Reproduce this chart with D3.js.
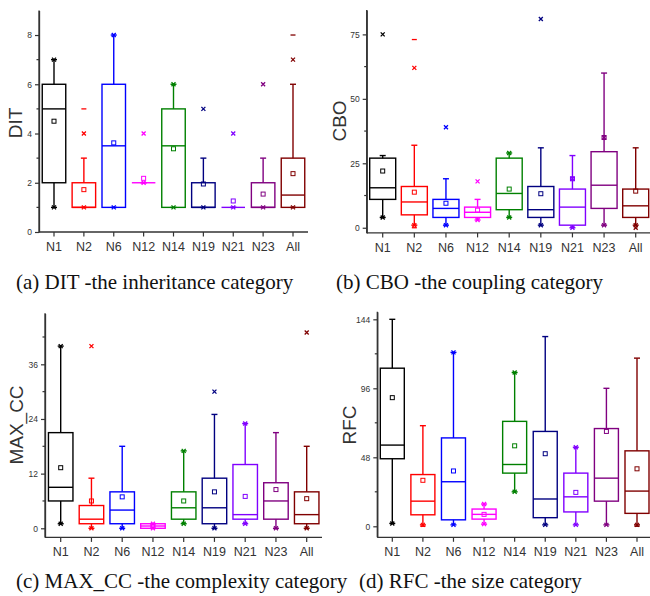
<!DOCTYPE html>
<html>
<head>
<meta charset="utf-8">
<script src="https://cdn.jsdelivr.net/npm/d3@7"></script>
<style>
  html, body { margin: 0; padding: 0; background: #fff; }
  svg { display: block; }
  .tick-label { font-family: "Liberation Sans", Arial, sans-serif; fill: #333; }
  .caption { font-family: "Liberation Serif", "Times New Roman", serif; fill: #111; }
</style>
</head>
<body>
<svg id="chart" width="650" height="596"></svg>
<script>
// Categories and colours shared by all four panels
const CATS = ["N1", "N2", "N6", "N12", "N14", "N19", "N21", "N23", "All"];
const COLORS = ["#000000", "#ff0000", "#0000ff", "#ff00ff", "#008000", "#000080", "#8000ff", "#800080", "#800000"];

// Box rows: [whisker low, Q1, median, Q3, whisker high]
const DIT_BOX = [[1, 2, 5, 6, 7], [1, 1, 1, 2, 3], [1, 1, 3.5, 6, 8], [2, 2, 2, 2, 2], [1, 1, 3.5, 5, 6],
                 [1, 1, 1, 2, 3], [1, 1, 1, 1, 1], [1, 1, 1, 2, 3], [1, 1, 1.5, 3, 6]];
const DIT_MEAN = [4.5, 1.72, 3.62, 2.18, 3.38, 1.95, 1.26, 1.54, 2.37];
const DIT_X = [[1, 7], [1, 4], [1, 8], [2, 4], [1, 6], [1, 5], [1, 4], [1, 6], [1, 7]];
const DIT_DASH = [[], [5], [], [], [], [], [], [], [8]];

const CBO_BOX = [[4, 11, 15.5, 27, 28], [1, 5, 10, 16, 32], [1, 4, 7.5, 11, 19], [3, 4, 6, 8, 11], [4, 7, 13.3, 27, 29],
                 [1, 4, 7, 16, 31], [0, 1, 8, 15, 28], [1, 7.5, 16.5, 29.5, 60], [1, 4, 8.5, 15, 31]];
const CBO_MEAN = [22, 13.8, 9.5, 6.8, 15, 13.2, 19, 35, 14.2];
const CBO_X = [[4, 75], [1, 62], [1, 39], [3, 18], [4, 29], [1, 81], [0, 19], [1, 35], [0, 1]];
const CBO_DASH = [[], [0, 73], [], [], [], [], [], [], []];

const MAXCC_BOX = [[1, 6, 9, 21, 40], [0, 1, 2, 5, 11], [0, 1, 4, 8, 18], [0, 0, 0.5, 1, 1], [1, 2, 4.5, 8, 17],
                   [0, 1, 4.5, 11, 25], [1, 2, 3, 14, 23], [0, 2, 6, 10, 21], [0, 1, 3, 8, 18]];
const MAXCC_MEAN = [13.3, 6, 6.9, 0.5, 6, 8, 7, 8.5, 6.5];
const MAXCC_X = [[1, 40], [0, 40], [0], [0, 1], [1, 17], [0, 30], [1, 23], [0], [0, 43]];
const MAXCC_DASH = [[], [], [], [], [], [], [], [], []];

const RFC_BOX = [[2, 47, 56.5, 110, 144], [1, 8, 17.5, 36, 70], [1, 4.5, 31, 61.5, 121], [1.5, 5, 8.3, 12, 15.5],
                 [24, 37, 43, 73, 107], [1, 6, 19, 66, 132], [1, 10, 20.5, 37, 55], [1, 17.5, 33.5, 68, 96],
                 [1, 9, 24.5, 52.5, 117]];
const RFC_MEAN = [89.5, 32, 38.5, 8.3, 56, 50.5, 23.6, 66, 40];
const RFC_X = [[2], [1], [1, 121], [1.5, 15.5], [24, 107], [1], [1, 55], [1], [1]];
const RFC_DASH = [[], [0], [], [], [], [], [], [], [0]];

// Axis ticks per panel
const DIT_TICKS = [0, 2, 4, 6, 8], DIT_MINOR = [1, 3, 5, 7];
const CBO_TICKS = [0, 25, 50, 75], CBO_MINOR = [12.5, 37.5, 62.5];
const MAXCC_TICKS = [0, 12, 24, 36], MAXCC_MINOR = [6, 18, 30, 42];
const RFC_TICKS = [0, 48, 96, 144], RFC_MINOR = [24, 72, 120];

const CAPTIONS = ["(a) DIT -the inheritance category", "(b) CBO -the coupling category",
                  "(c) MAX_CC -the complexity category", "(d) RFC -the size category"];

// layout of each panel (pixel frames)
const panels = [
  { name: "DIT", box: DIT_BOX, mean: DIT_MEAN, xs: DIT_X, dash: DIT_DASH, ticks: DIT_TICKS, minor: DIT_MINOR,
    domain: [0, 9], yr: [232, 10.4], axX: 39, xr: [54, 293], axEnd: 308, bw: 23.5,
    lab: [15, 123], cap: [16, 289] },
  { name: "CBO", box: CBO_BOX, mean: CBO_MEAN, xs: CBO_X, dash: CBO_DASH, ticks: CBO_TICKS, minor: CBO_MINOR,
    domain: [-2, 84.5], yr: [232.9, 9.9], axX: 366.7, xr: [382.7, 635.7], axEnd: 650, bw: 26,
    lab: [339, 121], cap: [336, 289] },
  { name: "MAX_CC", box: MAXCC_BOX, mean: MAXCC_MEAN, xs: MAXCC_X, dash: MAXCC_DASH, ticks: MAXCC_TICKS, minor: MAXCC_MINOR,
    domain: [-2, 47.2], yr: [537.4, 313.3], axX: 45, xr: [60.7, 306.7], axEnd: 322, bw: 24.5,
    lab: [16.5, 425], cap: [16, 588] },
  { name: "RFC", box: RFC_BOX, mean: RFC_MEAN, xs: RFC_X, dash: RFC_DASH, ticks: RFC_TICKS, minor: RFC_MINOR,
    domain: [-7.65, 149.3], yr: [537.3, 311.7], axX: 377.3, xr: [392.3, 637], axEnd: 650, bw: 24,
    lab: [349, 425], cap: [359, 588] }
];

const svg = d3.select("#chart");

panels.forEach((p, pi) => {
  const y = d3.scaleLinear().domain(p.domain).range(p.yr);
  const x = d3.scalePoint().domain(CATS).range(p.xr);
  const g = svg.append("g");
  const yBase = p.yr[0];

  // y axis (major + minor ticks)
  g.append("g")
    .attr("transform", `translate(${p.axX},0)`)
    .call(d3.axisLeft(y).tickValues(p.ticks).tickSize(4).tickPadding(3).tickSizeOuter(0))
    .call(a => a.select(".domain").attr("stroke", "#333").attr("stroke-width", 1.3))
    .call(a => a.selectAll(".tick line").attr("stroke", "#333").attr("stroke-width", 1.2))
    .call(a => a.selectAll(".tick text").attr("class", "tick-label").attr("font-size", 8.5).attr("fill", "#333"));
  g.append("g")
    .attr("transform", `translate(${p.axX},0)`)
    .selectAll("line").data(p.minor).join("line")
    .attr("x1", -2.5).attr("x2", 0)
    .attr("y1", d => y(d)).attr("y2", d => y(d))
    .attr("stroke", "#333").attr("stroke-width", 1.2);
  // extend y axis line fully to the x axis
  g.append("line")
    .attr("x1", p.axX).attr("x2", p.axX)
    .attr("y1", p.yr[1]).attr("y2", yBase)
    .attr("stroke", "#333").attr("stroke-width", 1.3);

  // x axis
  g.append("line")
    .attr("x1", p.axX).attr("x2", p.axEnd)
    .attr("y1", yBase).attr("y2", yBase)
    .attr("stroke", "#333").attr("stroke-width", 1.3);
  g.selectAll(".xt").data(CATS).join("line")
    .attr("x1", d => x(d)).attr("x2", d => x(d))
    .attr("y1", yBase).attr("y2", yBase + 4.5)
    .attr("stroke", "#333").attr("stroke-width", 1.2);
  g.selectAll(".xl").data(CATS).join("text")
    .attr("class", "tick-label")
    .attr("x", d => x(d)).attr("y", yBase + 19)
    .attr("text-anchor", "middle")
    .attr("font-size", 12.5)
    .attr("fill", "#222")
    .text(d => d);

  // axis title
  g.append("text")
    .attr("class", "tick-label")
    .attr("transform", `translate(${p.lab[0]},${p.lab[1]}) rotate(-90)`)
    .attr("text-anchor", "middle")
    .attr("dominant-baseline", "central")
    .attr("font-size", 19)
    .attr("fill", "#111")
    .text(p.name);

  // boxes
  CATS.forEach((c, i) => {
    const [wlo, q1, med, q3, whi] = p.box[i];
    const col = COLORS[i];
    const cx = x(c);
    const bg = g.append("g").attr("stroke", col).attr("fill", "none").attr("stroke-width", 1.4);

    // whiskers with caps
    bg.append("line").attr("x1", cx).attr("x2", cx).attr("y1", y(q3)).attr("y2", y(whi));
    bg.append("line").attr("x1", cx).attr("x2", cx).attr("y1", y(q1)).attr("y2", y(wlo));
    [wlo, whi].forEach(v => {
      bg.append("line").attr("x1", cx - 3).attr("x2", cx + 3).attr("y1", y(v)).attr("y2", y(v));
    });

    // box and median
    bg.append("rect")
      .attr("x", cx - p.bw / 2).attr("width", p.bw)
      .attr("y", y(q3)).attr("height", Math.max(0, y(q1) - y(q3)));
    bg.append("line")
      .attr("x1", cx - p.bw / 2).attr("x2", cx + p.bw / 2)
      .attr("y1", y(med)).attr("y2", y(med));

    // mean: open square
    bg.append("rect")
      .attr("x", cx - 2).attr("y", y(p.mean[i]) - 2)
      .attr("width", 4).attr("height", 4)
      .attr("stroke-width", 1);

    // 1% / 99% markers: crosses
    p.xs[i].forEach(v => {
      const yy = y(v);
      bg.append("path")
        .attr("d", `M${cx - 2},${yy - 2}L${cx + 2},${yy + 2}M${cx - 2},${yy + 2}L${cx + 2},${yy - 2}`)
        .attr("stroke-width", 1.3);
    });

    // min / max markers: dashes
    p.dash[i].forEach(v => {
      bg.append("line")
        .attr("x1", cx - 2.5).attr("x2", cx + 2.5)
        .attr("y1", y(v)).attr("y2", y(v))
        .attr("stroke-width", 1.3);
    });
  });

  // caption
  svg.append("text")
    .attr("class", "caption")
    .attr("x", p.cap[0]).attr("y", p.cap[1])
    .attr("font-size", 21)
    .text(CAPTIONS[pi]);
});
</script>
</body>
</html>
